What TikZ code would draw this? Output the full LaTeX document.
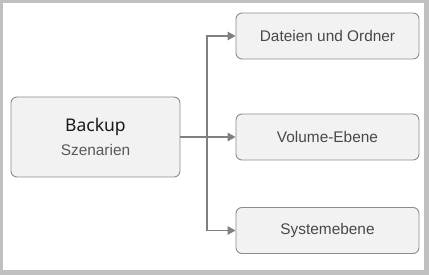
\documentclass[tikz,border=0pt]{standalone}
\usepackage{fontspec}
\setmainfont{Liberation Sans}
\newfontfamily\titlefont{Noto Sans}
\newfontfamily\labelfont{Liberation Sans}
\usepackage{tikz}
\usetikzlibrary{arrows.meta}
\definecolor{rahmen}{RGB}{192,192,192}
\definecolor{kasten}{RGB}{242,242,242}
\definecolor{kante}{RGB}{140,140,140}
\definecolor{pfeil}{RGB}{128,128,128}
\definecolor{schrift}{RGB}{72,72,72}

\begin{document}
\begin{tikzpicture}[x=1pt, y=-1pt,
  box/.style={draw=kante, fill=kasten, rounded corners=6pt, line width=0.9pt,
    inner sep=0pt, text=schrift, font=\labelfont\fontsize{15.4}{18}\selectfont},
  arr/.style={draw=pfeil, line width=1.6pt, -{Triangle[length=8pt, width=8.5pt]}}]
\useasboundingbox (0,0) rectangle (429,275);
\fill[rahmen] (0,0) rectangle (429,275);
\fill[white] (3,3) rectangle (424,270);
\node[box, minimum width=169pt, minimum height=80pt, align=center] (backup) at (95.5,137)
  {\titlefont\fontsize{17.5}{20}\selectfont\color{black!90}Backup\\[6pt]
   \labelfont\fontsize{15.4}{18}\selectfont\color{black!65}Szenarien};
\foreach \y/\lab [count=\i] in {36/Dateien und Ordner, 137/Volume-Ebene, 230.5/Systemebene}{%
  \node[box, minimum width=183pt, minimum height=46pt] (ziel\i) at (327.5,\y) {\lab};}
\coordinate (gabel) at (207,137);
\draw[draw=pfeil, line width=1.6pt] (backup.east) -- (gabel);
\draw[arr] (gabel) |- (ziel1.west);
\draw[arr] (gabel) -- (ziel2.west);
\draw[arr] (gabel) |- (ziel3.west);
\end{tikzpicture}
\end{document}
